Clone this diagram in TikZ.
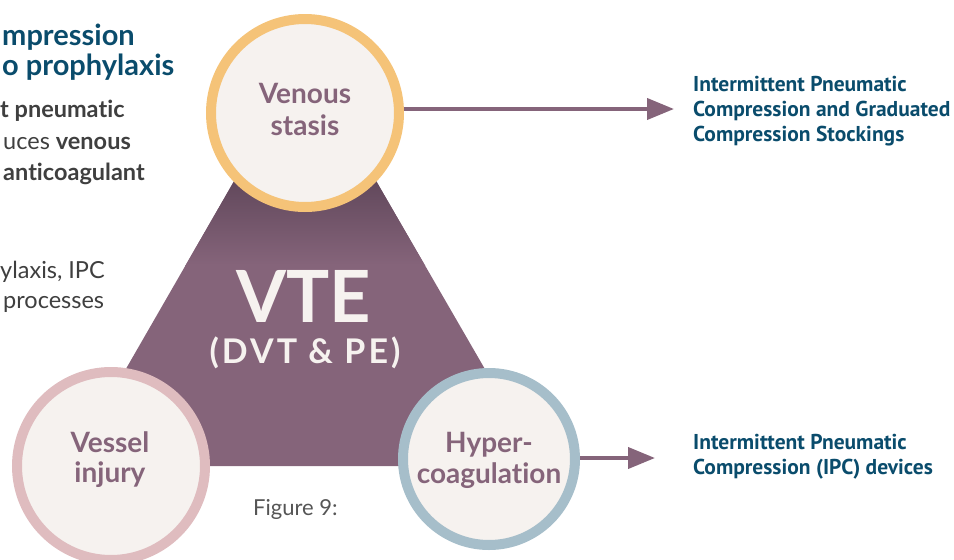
\documentclass[tikz,border=0pt]{standalone}
\usepackage{fontspec}
\setmainfont{Lato}[Ligatures=NoCommon]
\newfontfamily\ptsans{PT Sans}
\usetikzlibrary{arrows.meta}
\definecolor{vtepurple}{HTML}{85647A}
\definecolor{vtedark}{HTML}{5B4356}
\definecolor{ringorange}{HTML}{F5C378}
\definecolor{ringpink}{HTML}{DFBCBF}
\definecolor{ringblue}{HTML}{A6BECA}
\definecolor{cream}{HTML}{F6F2EF}
\definecolor{navy}{HTML}{0A4C6C}
\definecolor{textgray}{HTML}{3F3F3F}
\definecolor{capgray}{HTML}{555555}

\begin{document}
\begin{tikzpicture}[x=1pt, y=-1pt,
  ring/.style={circle, fill=cream, line width=10pt, inner sep=0pt},
  circtext/.style={anchor=base, text=vtepurple, inner sep=0pt, font=\fontsize{28}{30}\selectfont\bfseries},
  vtetext/.style={anchor=base, text=cream, inner sep=0pt},
  advice/.style={anchor=base west, text=navy, inner sep=0pt, font=\ptsans\fontsize{21.5}{25}\selectfont\bfseries},
  heading/.style={anchor=base west, text=navy, inner sep=0pt, font=\fontsize{29}{33}\selectfont\bfseries},
  body/.style={anchor=base west, text=textgray, inner sep=0pt, font=\fontsize{23.5}{31}\selectfont},
  arr/.style={draw=vtepurple, line width=4pt, -{Triangle[length=27pt, width=21pt]}}]
\useasboundingbox (0,0) rectangle (954,560);
\clip (0,0) rectangle (954,560);

% triangle with dark top
\coordinate (apex) at (305,58);
\coordinate (bl) at (70,466);
\coordinate (br) at (541,466);
\fill[vtepurple] (apex) -- (br) -- (bl) -- cycle;
\begin{scope}
\clip (apex) -- (br) -- (bl) -- cycle;
\shade[top color=vtedark, bottom color=vtepurple] (0,165) rectangle (954,265);
\fill[vtedark] (0,0) rectangle (954,166);
\end{scope}
\node[vtetext, font=\fontsize{72}{72}\selectfont\bfseries] (vte) at (304,322) {VTE};
\node[vtetext, font=\fontsize{34}{36}\selectfont\bfseries\addfontfeature{LetterSpace=9}] (dvt) at (305,363) {(DVT \& PE)};

% the three circles
\node[ring, draw=ringorange, minimum size=188pt] (vs) at (305,113) {};
\node[ring, draw=ringpink, minimum size=188pt] (vi) at (111,466) {};
\node[ring, draw=ringblue, minimum size=172pt] (hc) at (489,459) {};
\node[circtext] (vs1) at (305,103) {Venous};
\node[circtext] (vs2) at (305,135) {stasis};
\node[circtext] (vi1) at (110,452) {Vessel};
\node[circtext] (vi2) at (110,482) {injury};
\node[circtext] (hc1) at (489,452) {Hyper-};
\node[circtext] (hc2) at (489,483) {coagulation};

% arrows to the devices
\coordinate (t1) at (674,109);
\coordinate (t2) at (655,458);
\draw[arr] (vs.east |- t1) -- (t1);
\draw[arr] (hc.east |- t2) -- (t2);
\node[advice] (a1) at (693,91) {Intermittent Pneumatic};
\node[advice] (a2) at (693,116) {Compression and Graduated};
\node[advice] (a3) at (693,141) {Compression Stockings};
\node[advice] (b1) at (693,449) {Intermittent Pneumatic};
\node[advice] (b2) at (693,474) {Compression (IPC) devices};

% text on the left
\node[heading] (h1) at (2,45) {mpression};
\node[heading] (h2) at (2,75) {o prophylaxis};
\node[body] (p1) at (0,117) {\bfseries t pneumatic};
\node[body] (p2) at (3,149) {uces \textbf{venous}};
\node[body] (p3) at (3,180) {\bfseries anticoagulant};
\node[body] (p4) at (0,278) {ylaxis, IPC};
\node[body] (p5) at (3,308) {processes};
\node[anchor=base west, inner sep=0pt, text=capgray, font=\fontsize{22}{24}\selectfont] (fig) at (253,515) {Figure 9:};
\end{tikzpicture}
\end{document}
